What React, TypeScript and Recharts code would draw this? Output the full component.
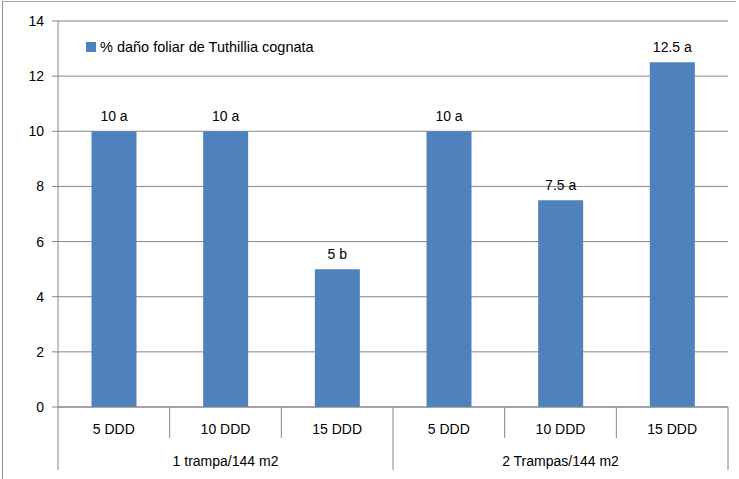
import React from 'react';
import { BarChart, Bar, XAxis, YAxis, CartesianGrid, LabelList, Legend } from 'recharts';

const categories = ['5 DDD', '10 DDD', '15 DDD', '5 DDD', '10 DDD', '15 DDD'];
const groups = ['1 trampa/144 m2', '2 Trampas/144 m2'];
const values = [10, 10, 5, 10, 7.5, 12.5];
const letters = ['a', 'a', 'b', 'a', 'a', 'a'];
const yTicks = [0, 2, 4, 6, 8, 10, 12, 14];
const seriesName = '% daño foliar de Tuthillia cognata';

const data = categories.map((c, i) => ({
  key: `k${i}`,
  cat: c,
  group: groups[Math.floor(i / 3)],
  value: values[i],
  label: `${values[i]} ${letters[i]}`,
}));

const FONT = '"Liberation Sans", Arial, sans-serif';
const GRID = '#868686';
const BAR = '#4F81BD';

const CatTick = (props: any) => {
  const { x, y, payload } = props;
  const idx = data.findIndex((d) => d.key === payload.value);
  const half = payload.offset || 55.8;
  const row = data[idx];
  const els: any[] = [];
  const leftLong = idx % 3 === 0;
  els.push(<line key="l" x1={x - half} x2={x - half} y1={y} y2={y + (leftLong ? 63 : 31)} stroke={GRID} strokeWidth={1} />);
  if (idx === data.length - 1) {
    els.push(<line key="r" x1={x + half} x2={x + half} y1={y} y2={y + 63} stroke={GRID} strokeWidth={1} />);
  }
  els.push(
    <text key="t" x={x} y={y + 27} textAnchor="middle" fontSize={14} fontFamily={FONT} fill="#000">
      {row ? row.cat : ''}
    </text>
  );
  if (idx % 3 === 1 && row) {
    els.push(
      <text key="g" x={x} y={y + 59} textAnchor="middle" fontSize={14} fontFamily={FONT} fill="#000">
        {row.group}
      </text>
    );
  }
  return <g>{els}</g>;
};

const LegendContent = () => (
  <div style={{ display: 'flex', alignItems: 'center', fontFamily: FONT, fontSize: 14.5, color: '#000', whiteSpace: 'nowrap' }}>
    <span style={{ display: 'inline-block', width: 10, height: 10, background: BAR, marginRight: 4 }} />
    <span>{seriesName}</span>
  </div>
);

export default function App() {
  return (
    <div style={{ position: 'absolute', left: 0, top: 0, width: 739, height: 479, background: '#fff' }}>
      <div style={{ position: 'absolute', left: 2, top: 1, width: 734, height: 1, background: '#a6a6a6' }} />
      <div style={{ position: 'absolute', left: 2, top: 1, width: 1, height: 478, background: '#8c8c8c' }} />
      <BarChart
        width={739}
        height={479}
        data={data}
        margin={{ top: 21, right: 11, bottom: 0, left: 0 }}
        barCategoryGap="30%"
      >
        <CartesianGrid horizontal vertical={false} stroke={GRID} strokeDasharray="" />
        <XAxis
          dataKey="key"
          type="category"
          height={72}
          axisLine={{ stroke: GRID }}
          tickLine={false}
          tickSize={0}
          tickMargin={0}
          interval={0}
          tick={<CatTick />}
        />
        <YAxis
          width={58}
          domain={[0, 14]}
          ticks={yTicks}
          interval={0}
          axisLine={{ stroke: GRID }}
          tickLine={{ stroke: GRID }}
          tickSize={6}
          tickMargin={8}
          tick={{ fontSize: 14, fontFamily: FONT, fill: '#000' }}
        />
        <Legend
          layout="horizontal"
          verticalAlign="middle"
          align="center"
          content={<LegendContent />}
          wrapperStyle={{ position: 'absolute', left: 86, top: 39, width: 'auto' }}
        />
        <Bar dataKey="value" name={seriesName} fill={BAR} isAnimationActive={false}>
          <LabelList dataKey="label" position="top" offset={10} fontSize={14} fontFamily={FONT} fill="#000" />
        </Bar>
      </BarChart>
    </div>
  );
}
